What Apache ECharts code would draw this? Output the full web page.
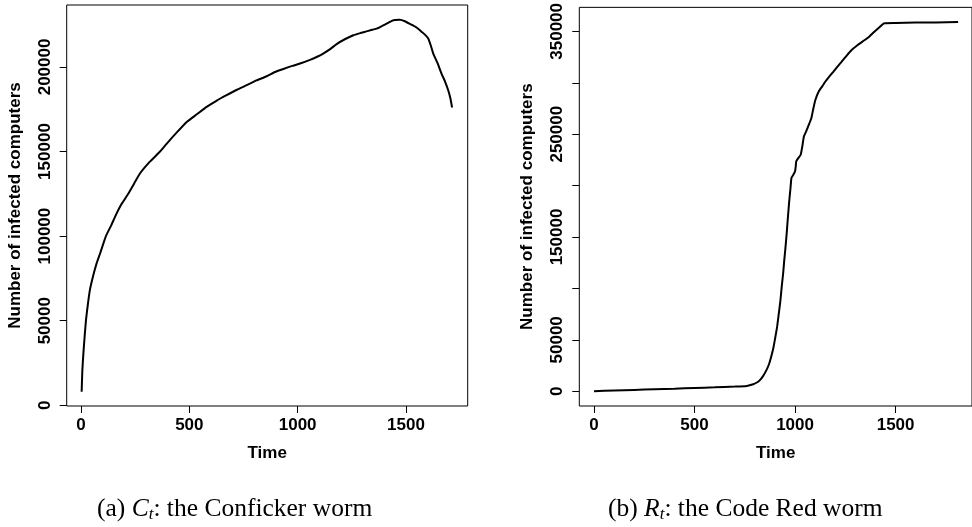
<!DOCTYPE html>
<html>
<head>
<meta charset="utf-8">
<script src="https://cdn.jsdelivr.net/npm/echarts@6/dist/echarts.min.js"></script>
<style>
  html, body { margin: 0; padding: 0; background: #fff; }
  #chart { width: 972px; height: 527px; }
</style>
</head>
<body>
<div id="chart"></div>
<script>
// Conficker worm: infected computers over time
const confickerTime = [3, 6, 11, 17, 23, 32, 41, 55, 72, 90, 115, 140, 157, 185, 218, 245, 272, 318, 365, 395, 440, 488, 535, 580, 625, 672, 720, 765, 810, 857, 895, 934, 975, 1011, 1057, 1090, 1118, 1150, 1180, 1220, 1257, 1290, 1318, 1345, 1365, 1390, 1411, 1435, 1449, 1472, 1495, 1520, 1549, 1575, 1590, 1603, 1615, 1626, 1645, 1664, 1680, 1695, 1705, 1713];
const confickerCount = [8000, 20000, 30700, 41000, 50400, 60000, 68100, 76000, 83900, 90500, 100000, 106500, 111400, 118500, 125000, 131000, 137000, 144000, 150000, 154500, 161000, 167500, 172000, 176400, 180000, 183300, 186500, 189200, 192000, 194500, 197000, 198800, 200600, 202000, 204200, 206000, 207900, 210500, 213500, 216500, 218700, 220000, 221000, 222000, 222600, 224200, 225600, 227200, 227800, 227900, 227000, 225300, 223300, 220500, 218800, 216800, 212500, 207900, 202500, 196100, 191500, 186200, 181500, 176000];

// Code Red worm: infected computers over time
const codeRedTime = [0, 100, 200, 300, 400, 500, 600, 700, 760, 792, 810, 824, 840, 857, 870, 881, 892, 902, 911, 919, 927, 935, 941, 946, 952, 958, 964, 971, 977, 982, 990, 1000, 1003, 1006, 1015, 1028, 1036, 1044, 1056, 1068, 1081, 1090, 1101, 1117, 1135, 1150, 1170, 1190, 1210, 1231, 1255, 1280, 1310, 1345, 1370, 1393, 1420, 1439, 1445, 1500, 1600, 1700, 1811];
const codeRedCount = [0, 700, 1300, 1900, 2500, 3200, 3800, 4500, 5200, 6800, 8500, 10600, 14500, 20300, 26000, 33200, 42000, 52600, 63000, 75200, 88000, 104200, 115000, 126800, 139000, 152600, 168000, 184900, 197000, 207400, 210000, 213900, 218000, 223600, 226500, 230000, 238100, 247800, 253000, 259000, 265500, 274000, 283200, 291300, 296500, 301000, 306000, 310700, 315500, 320300, 326000, 331600, 336500, 341300, 345000, 349400, 354000, 357400, 358000, 358200, 358500, 358700, 359000];

// Tick positions and labels
const timeTicks = [0, 500, 1000, 1500];
const confickerYTicks = [0, 50000, 100000, 150000, 200000];
const codeRedYTicks = [0, 50000, 100000, 150000, 200000, 250000, 300000, 350000];
const codeRedYLabels = [0, 50000, 150000, 250000, 350000];

const xTitle = 'Time';
const yTitle = 'Number of infected computers';

const pairs = (xs, ys) => xs.map((x, i) => [x, ys[i]]);

const FONT = '"Liberation Sans", Arial, sans-serif';
const SERIF = '"Liberation Serif", "Times New Roman", serif';

function xAxisFor(gridIndex, min, max) {
  return {
    type: 'value', gridIndex, min, max,
    name: xTitle, nameLocation: 'middle', nameGap: 39,
    nameTextStyle: { fontFamily: FONT, fontWeight: 'bold', fontSize: 17, color: '#000' },
    axisLine: { show: false, onZero: false },
    splitLine: { show: false },
    axisTick: { show: true, inside: false, length: 7, customValues: timeTicks, lineStyle: { color: '#000', width: 1 } },
    axisLabel: { customValues: timeTicks, margin: 11, fontFamily: FONT, fontWeight: 'bold', fontSize: 17, color: '#000', formatter: v => String(v) }
  };
}

function yAxisFor(gridIndex, min, max, ticks, labels) {
  return {
    type: 'value', gridIndex, min, max,
    name: yTitle, nameLocation: 'middle', nameGap: 43,
    nameTextStyle: { fontFamily: FONT, fontWeight: 'bold', fontSize: 17, color: '#000' },
    axisLine: { show: false, onZero: false },
    splitLine: { show: false },
    axisTick: { show: true, inside: false, length: 7, customValues: ticks, lineStyle: { color: '#000', width: 1 } },
    axisLabel: { customValues: labels, rotate: 90, margin: 13, fontFamily: FONT, fontWeight: 'bold', fontSize: 17, color: '#000', formatter: v => String(v) }
  };
}

function caption(letter, sym, rest, left) {
  const base = { fontFamily: SERIF, fontSize: 25.5, fontWeight: 'normal', color: '#000', lineHeight: 28 };
  return {
    text: '{n|(' + letter + ') }{i|' + sym + '}{s|t}{n|: ' + rest + '}',
    left, top: 490,
    textStyle: {
      fontWeight: 'normal',
      rich: {
        n: base,
        i: Object.assign({}, base, { fontStyle: 'italic' }),
        s: { fontFamily: SERIF, fontSize: 17, fontWeight: 'normal', fontStyle: 'italic', color: '#000', lineHeight: 16, verticalAlign: 'bottom' }
      }
    }
  };
}

const chart = echarts.init(document.getElementById('chart'), null, { renderer: 'canvas' });
chart.setOption({
  animation: false,
  backgroundColor: '#fff',
  title: [
    caption('a', 'C', 'the Conficker worm', 92),
    caption('b', 'R', 'the Code Red worm', 603)
  ],
  grid: [
    { left: 66.7, top: 5, width: 401, height: 401, show: true, borderColor: '#000', borderWidth: 1, backgroundColor: 'transparent' },
    { left: 579.3, top: 5, width: 401, height: 401, show: true, borderColor: '#000', borderWidth: 1, backgroundColor: 'transparent' }
  ],
  xAxis: [
    xAxisFor(0, -66, 1785),
    xAxisFor(1, -73, 1880)
  ],
  yAxis: [
    yAxisFor(0, -400, 236600, confickerYTicks, confickerYTicks),
    yAxisFor(1, -14360, 373360, codeRedYTicks, codeRedYLabels)
  ],
  series: [
    { type: 'line', xAxisIndex: 0, yAxisIndex: 0, data: pairs(confickerTime, confickerCount), showSymbol: false, smooth: 0.15, smoothMonotone: 'none', lineStyle: { color: '#000', width: 2 } },
    { type: 'line', xAxisIndex: 1, yAxisIndex: 1, data: pairs(codeRedTime, codeRedCount), showSymbol: false, smooth: 0.15, smoothMonotone: 'none', lineStyle: { color: '#000', width: 2 } }
  ]
});
</script>
</body>
</html>
